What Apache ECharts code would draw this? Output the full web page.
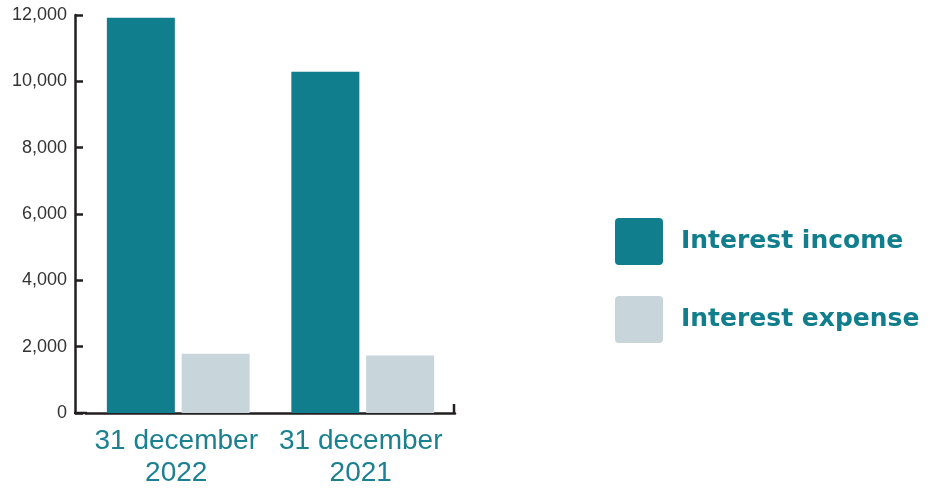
<!DOCTYPE html>
<html>
<head>
<meta charset="utf-8">
<script src="https://cdn.jsdelivr.net/npm/echarts@6/dist/echarts.min.js"></script>
<style>
  html, body { margin: 0; padding: 0; background: #fff; }
  #chart { width: 931px; height: 490px; }
</style>
</head>
<body>
<div id="chart"></div>
<script>
var categories = ['31 december\n2022', '31 december\n2021'];
var interestIncome = [11920, 10290];
var interestExpense = [1790, 1730];
var seriesNames = ['Interest income', 'Interest expense'];

var teal = '#107e8c';
var grey = '#c8d5db';
var axisColor = '#231f20';
var roundBox = 'path://M4,0H44Q48,0 48,4V43Q48,47 44,47H4Q0,47 0,43V4Q0,0 4,0Z';

var chart = echarts.init(document.getElementById('chart'));
chart.setOption({
    animation: false,
    grid: { left: 86, top: 15, width: 369, bottom: 77 },
    legend: {
        orient: 'vertical',
        left: 615,
        top: 218,
        padding: 0,
        itemWidth: 48,
        itemHeight: 47,
        itemGap: 31,
        icon: roundBox,
        textStyle: {
            fontFamily: 'DejaVu Sans',
            fontWeight: 'bold',
            fontSize: 25,
            color: teal,
            padding: [0, 0, 0, 13]
        },
        data: seriesNames
    },
    xAxis: {
        type: 'category',
        data: categories,
        axisLine: { lineStyle: { color: axisColor, width: 2.5 } },
        axisTick: { show: false },
        axisLabel: {
            interval: 0,
            fontFamily: 'Liberation Sans',
            fontSize: 28,
            lineHeight: 32,
            color: '#1b8090',
            margin: 12,
            padding: [0, 4, 0, 0]
        }
    },
    yAxis: {
        type: 'value',
        min: 0,
        max: 12000,
        interval: 2000,
        offset: 11,
        splitLine: { show: false },
        axisLine: { show: true, lineStyle: { color: axisColor, width: 2.5 } },
        axisTick: { show: true, inside: true, length: 8, lineStyle: { color: axisColor, width: 2.5 } },
        axisLabel: {
            fontFamily: 'Liberation Sans',
            fontSize: 18,
            color: '#333',
            margin: 8,
            formatter: function (v) { return v.toLocaleString('en-US'); }
        }
    },
    graphic: [
        { type: 'line', shape: { x1: 74, y1: 413, x2: 87, y2: 413 }, style: { stroke: axisColor, lineWidth: 2.5 } },
        { type: 'line', shape: { x1: 454, y1: 404, x2: 454, y2: 414 }, style: { stroke: axisColor, lineWidth: 2.5 } }
    ],
    series: [
        {
            name: seriesNames[0],
            type: 'bar',
            data: interestIncome,
            barWidth: 68,
            barGap: '10%',
            itemStyle: { color: teal }
        },
        {
            name: seriesNames[1],
            type: 'bar',
            data: interestExpense,
            barWidth: 68,
            itemStyle: { color: grey }
        }
    ]
});
</script>
</body>
</html>
